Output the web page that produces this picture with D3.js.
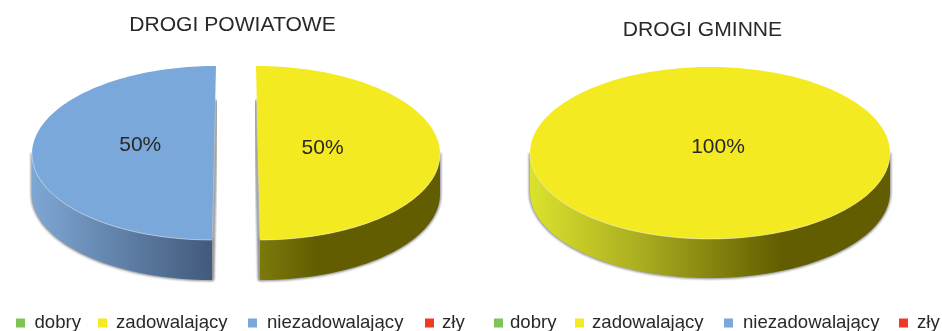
<!DOCTYPE html>
<html><head><meta charset="utf-8">
<script src="https://cdnjs.cloudflare.com/ajax/libs/d3/7.8.5/d3.min.js"></script>
<style>html,body{margin:0;padding:0;background:#fff}svg{display:block;filter:blur(.35px)}text{font-family:"Liberation Sans",Arial,sans-serif;fill:#2a2829}</style>
</head><body><svg id="c" width="942" height="331"></svg>
<script>
const categories = ["dobry","zadowalający","niezadowalający","zły"];
const powiatowe = [0,50,50,0];
const gminne = [0,100,0,0];
const titles = ["DROGI POWIATOWE","DROGI GMINNE"];
const colors = ["#7fc256","#f4ea22","#7aa8da","#ee3a24"];
const sideStops = [
  [],
  [[0,"#dbe22c"],[.3,"#abae20"],[.7,"#625d00"],[1,"#625d00"]],
  [[0,"#7ea7d4"],[.45,"#41587a"],[1,"#41587a"]],
  []
];

const svg = d3.select("#c");
const defs = svg.append("defs");
defs.append("filter").attr("id","sh").attr("x","-5%").attr("y","-5%").attr("width","110%").attr("height","110%")
  .append("feGaussianBlur").attr("stdDeviation",0.8);

const pieGen = d3.pie().sort(null).value(d=>d);
const layouts = [
  {values:powiatowe,cx:236,cy:153,rx:182,ry:87,depth:40,explode:22,title:titles[0],tx:232.5,ty:31,
   swatchX:[16,98,248,425],textX:[34.5,116,267,442],ly:323},
  {values:gminne,cx:710,cy:153,rx:180,ry:86,depth:39,explode:0,title:titles[1],tx:702.5,ty:36,
   swatchX:[494,575,724,899],textX:[510,592,743,917],ly:323}
];
const skew = 4/174;

layouts.forEach((L,pi)=>{
  const g = svg.append("g");
  const scX = d3.scaleLinear().domain([-1,1]).range([L.cx-L.rx,L.cx+L.rx]);
  const scY = d3.scaleLinear().domain([-1,1]).range([L.cy-L.ry,L.cy+L.ry]);
  const slices = pieGen(L.values).filter(s=>s.value>0);

  slices.forEach(s=>{
    const mid=(s.startAngle+s.endAngle)/2, sx=Math.sin(mid), k=slices.length>1?skew*Math.sign(sx):0;
    const off=L.explode*sx;
    const px=a=>scX(Math.sin(a))+off+k*(scY(-Math.cos(a))-L.cy);
    const py=a=>scY(-Math.cos(a));
    const ang=d3.range(0,121).map(i=>s.startAngle+(s.endAngle-s.startAngle)*i/120);
    const line=d3.line();
    const topPts=ang.map(a=>[px(a),py(a)]);
    if(slices.length>1) topPts.push([L.cx+off,L.cy]);
    const front=ang.filter(a=>Math.cos(a)<=0.02);
    const sidePts=front.map(a=>[px(a),py(a)]).concat(front.slice().reverse().map(a=>[px(a),py(a)+L.depth]));
    const id=`side${pi}_${s.index}`;
    const gr=defs.append("linearGradient").attr("id",id).attr("gradientUnits","userSpaceOnUse")
      .attr("x1",L.cx-L.rx-L.explode).attr("x2",L.cx+L.rx+L.explode).attr("y1",0).attr("y2",0);
    sideStops[s.index].forEach(st=>gr.append("stop").attr("offset",st[0]).attr("stop-color",st[1]));
    g.append("path").attr("d",line(sidePts)+"Z").attr("fill","#8e9093").attr("stroke","#8e9093").attr("stroke-width",2.4)
      .attr("filter","url(#sh)");
    if(slices.length>1){
      const xAt=y=>L.cx+off+k*(y-L.cy)-Math.sign(sx)*1.5;
      g.append("path").attr("d",line([[xAt(L.cy-53),L.cy-53],[xAt(L.cy+L.ry+L.depth),L.cy+L.ry+L.depth]]))
        .attr("stroke","#8e9093").attr("stroke-width",3).attr("fill","none").attr("filter","url(#sh)");
    }
    g.append("path").attr("d",line(sidePts)+"Z").attr("fill",`url(#${id})`);
    g.append("path").attr("d",line(topPts)+"Z").attr("fill",colors[s.index]);
    g.append("path").attr("d",line(front.map(a=>[px(a),py(a)]))).attr("fill","none").attr("stroke","#fff").attr("stroke-opacity",.55).attr("stroke-width",.8);
    const share=s.value/d3.sum(L.values);
    const lx=slices.length>1?L.cx+off+sx*L.rx*(sx>0?.355:.405):L.cx+8;
    const ly=L.cy+(slices.length>1?(sx>0?-7:-10):-8);
    g.append("text").attr("x",lx).attr("y",ly).attr("dy",".36em").attr("text-anchor","middle")
      .attr("font-size",21).text(d3.format(".0%")(share));
  });

  g.append("text").attr("x",L.tx).attr("y",L.ty).attr("text-anchor","middle").attr("font-size",21.1).text(L.title);

  const lg=svg.append("g");
  categories.forEach((c,i)=>{
    lg.append("rect").attr("x",L.swatchX[i]).attr("y",L.ly-4.5).attr("width",9).attr("height",9).attr("fill",colors[i]);
    lg.append("text").attr("x",L.textX[i]).attr("y",L.ly+5).attr("font-size",18.6).text(c);
  });
});
</script></body></html>
